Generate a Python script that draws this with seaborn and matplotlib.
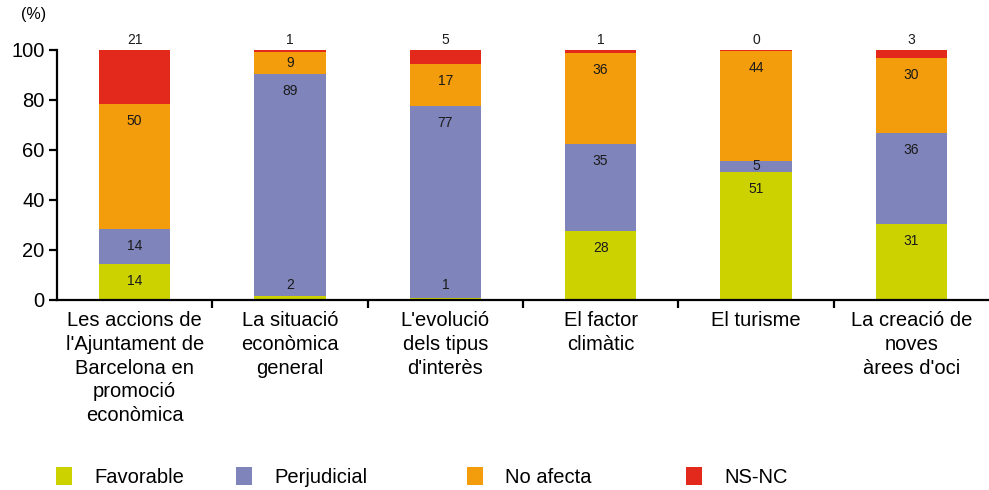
import numpy as np
import pandas as pd
import matplotlib
matplotlib.use("Agg")
import matplotlib.pyplot as plt
import seaborn as sns
from matplotlib.patches import Patch

# ====== Data ======
categories = [
    "Les accions de\nl'Ajuntament de\nBarcelona en\npromoció\neconòmica",
    "La situació\neconòmica\ngeneral",
    "L'evolució\ndels tipus\nd'interès",
    "El factor\nclimàtic",
    "El turisme",
    "La creació de\nnoves\nàrees d'oci",
]
series_names = ["Favorable", "Perjudicial", "No afecta", "NS-NC"]
favorable = [14.4, 1.6, 0.8, 27.6, 51.2, 30.4]
perjudicial = [14.0, 88.8, 76.8, 34.8, 4.4, 36.4]
no_afecta = [50.0, 8.8, 16.8, 36.4, 44.0, 30.0]
ns_nc = [21.6, 0.8, 5.6, 1.2, 0.4, 3.2]
# printed (rounded) labels as they appear in the source
fav_labels = ["14", "2", "1", "28", "51", "31"]
perj_labels = ["14", "89", "77", "35", "5", "36"]
noaf_labels = ["50", "9", "17", "36", "44", "30"]
nsnc_labels = ["21", "1", "5", "1", "0", "3"]

colors = ["#CCD200", "#7F84BA", "#F39C0C", "#E2291C"]

df = pd.DataFrame({"cat": categories, "Favorable": favorable, "Perjudicial": perjudicial,
                   "No afecta": no_afecta, "NS-NC": ns_nc})

plt.rcParams["font.family"] = ["Liberation Sans", "DejaVu Sans"]

fig = plt.figure(figsize=(9.89, 4.90), dpi=100)
ax = fig.add_axes([0.0576, 0.388, 0.9424, 0.510])

bottom = np.zeros(len(categories))
for name, col in zip(series_names, colors):
    sns.barplot(data=df, x="cat", y=name, bottom=bottom, color=col, width=0.46,
                saturation=1, ax=ax, linewidth=0, order=categories)
    bottom = bottom + df[name].values

# ====== Value labels ======
inside = [(favorable, fav_labels), (perjudicial, perj_labels), (no_afecta, noaf_labels)]
base = np.zeros(len(categories))
for vals, labs in inside:
    for i, (v, lab) in enumerate(zip(vals, labs)):
        top = base[i] + v
        y = top - 7 if v >= 14 else base[i] + v / 2
        y = max(y, 6)
        ax.text(i, y, lab, ha="center", va="center", fontsize=10, color="#1a1a1a")
    base = base + np.array(vals)
for i, lab in enumerate(nsnc_labels):
    ax.text(i, 104, lab, ha="center", va="center", fontsize=10, color="#1a1a1a", clip_on=False)

# ====== Axes styling ======
ax.set_xlim(-0.5, 5.5)
ax.set_ylim(0, 100)
ax.set_yticks([0, 20, 40, 60, 80, 100])
ax.set_xlabel("")
ax.set_ylabel("")
for s in ["top", "right"]:
    ax.spines[s].set_visible(False)
for s in ["left", "bottom"]:
    ax.spines[s].set_linewidth(1.6)
    ax.spines[s].set_color("black")
ax.tick_params(axis="y", length=6, width=1.6, labelsize=14.5, pad=3)
ax.tick_params(axis="x", which="major", length=0, labelsize=14.5, pad=8)
for t in ax.get_xticklabels():
    t.set_linespacing(1.32)
ax.set_xticks(np.arange(0.5, 5.5, 1), minor=True)
ax.tick_params(axis="x", which="minor", length=6, width=1.6, direction="out")
ax.text(-0.039, 1.14, "(%)", transform=ax.transAxes, fontsize=11.5, ha="left", va="center")

# ====== Legend (one entry per slot, as in the source) ======
legend_x = [0.057, 0.239, 0.472, 0.694]
for n, c, x in zip(series_names, colors, legend_x):
    fig.legend(handles=[Patch(facecolor=c, edgecolor="none", label=n)],
               loc="center left", bbox_to_anchor=(x, 0.026), frameon=False,
               fontsize=14.5, handlelength=0.8, handleheight=1.0,
               handletextpad=1.1, borderpad=0, borderaxespad=0)

fig.savefig("out.png", dpi=100)
